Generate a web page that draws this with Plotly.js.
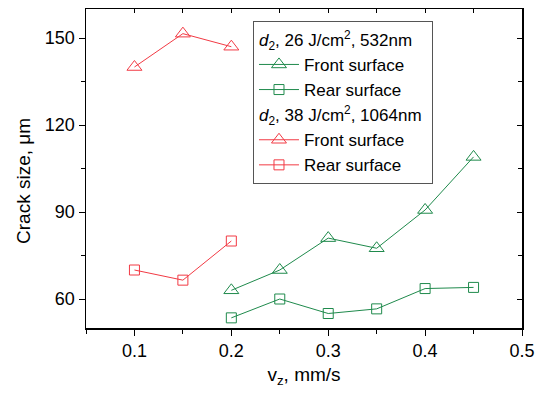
<!DOCTYPE html>
<html>
<head>
<meta charset="utf-8">
<script src="https://cdn.plot.ly/plotly-3.0.1.min.js"></script>
<style>html,body{margin:0;padding:0;background:#fff;}#chart{width:539px;height:394px;}</style>
</head>
<body>
<div id="chart"></div>
<script>
// Data
const xGreen = [0.20, 0.25, 0.30, 0.35, 0.40, 0.45];
const greenFront = [63, 70, 81, 77.5, 90.7, 109];
const greenRear = [53.5, 60, 55, 56.6, 63.6, 64];
const xRed = [0.10, 0.15, 0.20];
const redFront = [140, 151.5, 147];
const redRear = [70, 66.5, 80];
const groupTitles = ['<i>d</i><sub>2</sub>, 26 J/cm<sup>2</sup>, 532nm', '<i>d</i><sub>2</sub>, 38 J/cm<sup>2</sup>, 1064nm'];
const seriesNames = ['Front surface', 'Rear surface'];
const xTicks = [0.1, 0.2, 0.3, 0.4, 0.5];
const yTicks = [60, 90, 120, 150];
const yTitle = 'Crack size, μm';
const xTitle = 'v<sub>z</sub>, mm/s';

const GREEN = '#1f8a4c';
const RED = '#f23a44';
const FONT = 'Liberation Sans, Arial, sans-serif';

function tr(x, y, color, sym, size, name, grp, gt) {
  return {
    x: x, y: y, type: 'scatter', mode: 'lines+markers', name: name,
    legendgroup: grp, legendgrouptitle: {text: gt, font: {size: 17, color: '#000', family: FONT}},
    line: {color: color, width: 1},
    marker: {symbol: sym, size: size, color: color, line: {color: color, width: 1}}
  };
}
const data = [
  tr(xGreen, greenFront, GREEN, 'triangle-up-open', 13, seriesNames[0], 'g1', groupTitles[0]),
  tr(xGreen, greenRear, GREEN, 'square-open', 10, seriesNames[1], 'g1', groupTitles[0]),
  tr(xRed, redFront, RED, 'triangle-up-open', 13, seriesNames[0], 'g2', groupTitles[1]),
  tr(xRed, redRear, RED, 'square-open', 10, seriesNames[1], 'g2', groupTitles[1]),
  {x: [0.3], y: [100], xaxis: 'x2', yaxis: 'y2', type: 'scatter', mode: 'markers', showlegend: false, hoverinfo: 'skip', marker: {opacity: 0}}
];

const layout = {
  width: 539, height: 394,
  margin: {l: 86, r: 17, t: 9, b: 66},
  paper_bgcolor: '#fff', plot_bgcolor: '#fff',
  font: {family: FONT, size: 18, color: '#000'},
  showlegend: true,
  xaxis: {
    range: [0.05, 0.5], tickvals: xTicks, ticktext: xTicks.map(v => v.toFixed(1)),
    ticks: 'outside', ticklen: 6, tickwidth: 1, tickcolor: '#000',
    minor: {dtick: 0.05, tick0: 0.05, ticks: 'outside', ticklen: 4, tickcolor: '#000', tickwidth: 1},
    showline: true, linecolor: '#000', linewidth: 1.5, showgrid: false, zeroline: false,
    tickfont: {size: 18}, title: {text: xTitle, font: {size: 19}, standoff: 7}
  },
  yaxis: {
    range: [50, 160], tickvals: yTicks,
    ticks: 'outside', ticklen: 6, tickwidth: 1, tickcolor: '#000',
    minor: {dtick: 15, tick0: 45, ticks: 'outside', ticklen: 4, tickcolor: '#000', tickwidth: 1},
    showline: true, linecolor: '#000', linewidth: 1.5, showgrid: false, zeroline: false,
    tickfont: {size: 18}
  },
  xaxis2: {
    overlaying: 'x', side: 'top', anchor: 'y2', range: [0.05, 0.5], tickvals: xTicks, showticklabels: false,
    ticks: 'inside', ticklen: 4, tickwidth: 1, tickcolor: '#000',
    minor: {dtick: 0.05, tick0: 0.05, ticks: 'inside', ticklen: 4, tickcolor: '#000', tickwidth: 1},
    showline: true, linecolor: '#000', linewidth: 1.5, showgrid: false, zeroline: false
  },
  yaxis2: {
    overlaying: 'y', side: 'right', anchor: 'x2', range: [50, 160], tickvals: yTicks, showticklabels: false,
    ticks: 'inside', ticklen: 5, tickwidth: 1, tickcolor: '#000',
    minor: {dtick: 15, tick0: 45, ticks: 'inside', ticklen: 4, tickcolor: '#000', tickwidth: 1},
    showline: true, linecolor: '#000', linewidth: 1.5, showgrid: false, zeroline: false
  },
  annotations: [{
    text: yTitle, xref: 'paper', yref: 'paper', x: 0, y: 0.461,
    xanchor: 'center', yanchor: 'middle', xshift: -62, textangle: -90,
    showarrow: false, font: {size: 19, family: FONT, color: '#000'}
  }],
  legend: {
    x: 0.383, y: 0.963, xanchor: 'left', yanchor: 'top',
    bgcolor: '#fff', bordercolor: '#555', borderwidth: 1,
    traceorder: 'grouped', tracegroupgap: 0, itemwidth: 40,
    font: {size: 17, family: FONT, color: '#000'}
  }
};

Plotly.newPlot('chart', data, layout, {displayModeBar: false, staticPlot: true});
</script>
</body>
</html>
